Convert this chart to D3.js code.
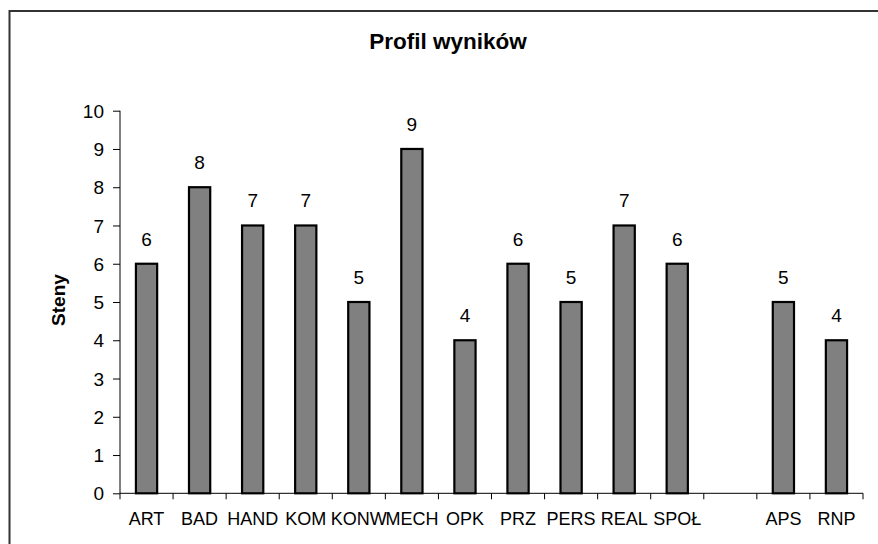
<!DOCTYPE html>
<html>
<head>
<meta charset="utf-8">
<script src="https://cdn.jsdelivr.net/npm/d3@7"></script>
<style>
  body { margin: 0; background: #fff; }
  text { font-family: "Liberation Sans", Arial, sans-serif; fill: #000; }
</style>
</head>
<body>
<div id="svg-area"></div>
<script>
var svgWidth = 878;
var svgHeight = 544;

// chart data
var categories = ["ART", "BAD", "HAND", "KOM", "KONW", "MECH", "OPK", "PRZ", "PERS", "REAL", "SPOŁ", "", "APS", "RNP"];
var values = [6, 8, 7, 7, 5, 9, 4, 6, 5, 7, 6, null, 5, 4];
var yTicks = [0, 1, 2, 3, 4, 5, 6, 7, 8, 9, 10];

var margin = { top: 110.7, right: 15, bottom: 50.7, left: 120 };
var chartWidth = 863 - margin.left;
var chartHeight = 493.3 - margin.top;

var svg = d3.select("#svg-area").append("svg")
  .attr("width", svgWidth)
  .attr("height", svgHeight);

// outer chart frame (runs off the right and bottom edges)
svg.append("rect")
  .attr("x", 9.5).attr("y", 11)
  .attr("width", 900).attr("height", 600)
  .attr("fill", "none")
  .attr("stroke", "#333")
  .attr("stroke-width", 2);

svg.append("text")
  .attr("x", 448).attr("y", 48.5)
  .attr("text-anchor", "middle")
  .style("font-size", "22.5px")
  .style("font-weight", "bold")
  .text("Profil wyników");

var chartGroup = svg.append("g")
  .attr("transform", `translate(${margin.left}, ${margin.top})`);

var xScale = d3.scaleBand()
  .domain(d3.range(categories.length))
  .range([0, chartWidth])
  .paddingInner(0.6)
  .paddingOuter(0.3);

var yScale = d3.scaleLinear()
  .domain([0, 10])
  .range([chartHeight, 0]);

// y axis
var yAxis = d3.axisLeft(yScale).tickValues(yTicks).tickSize(7).tickPadding(9);
var yG = chartGroup.append("g").call(yAxis);
yG.selectAll("path, line").attr("stroke", "#000").attr("stroke-width", 1);
yG.selectAll("text").style("font-size", "19px").attr("dy", "0.35em");
yG.select(".domain").attr("d", `M0,${chartHeight}V0`);

// x axis with ticks at the category boundaries
var step = chartWidth / categories.length;
var xG = chartGroup.append("g").attr("transform", `translate(0, ${chartHeight})`);
xG.append("line")
  .attr("x1", 0).attr("x2", chartWidth)
  .attr("stroke", "#000");
xG.selectAll(".tickmark")
  .data(d3.range(categories.length + 1))
  .enter().append("line")
  .attr("class", "tickmark")
  .attr("x1", function(d) { return d * step; })
  .attr("x2", function(d) { return d * step; })
  .attr("y1", 0).attr("y2", 6)
  .attr("stroke", "#000");
xG.selectAll(".cat")
  .data(categories)
  .enter().append("text")
  .attr("class", "cat")
  .attr("x", function(d, i) { return xScale(i) + xScale.bandwidth() / 2; })
  .attr("y", 31.5)
  .attr("text-anchor", "middle")
  .style("font-size", "18px")
  .text(function(d) { return d; });

chartGroup.append("text")
  .attr("transform", `translate(${58 - margin.left}, ${300 - margin.top}) rotate(-90)`)
  .attr("text-anchor", "middle")
  .attr("dy", "0.35em")
  .style("font-size", "19px")
  .style("font-weight", "bold")
  .text("Steny");

var barData = values.map(function(v, i) { return { i: i, v: v }; })
  .filter(function(d) { return d.v !== null; });

chartGroup.selectAll(".bar")
  .data(barData)
  .enter().append("rect")
  .attr("class", "bar")
  .attr("x", function(d) { return xScale(d.i); })
  .attr("y", function(d) { return yScale(d.v); })
  .attr("width", xScale.bandwidth())
  .attr("height", function(d) { return chartHeight - yScale(d.v); })
  .attr("fill", "#808080")
  .attr("stroke", "#000")
  .attr("stroke-width", 2.2);

chartGroup.selectAll(".val")
  .data(barData)
  .enter().append("text")
  .attr("class", "val")
  .attr("x", function(d) { return xScale(d.i) + xScale.bandwidth() / 2; })
  .attr("y", function(d) { return yScale(d.v) - 18; })
  .attr("text-anchor", "middle")
  .style("font-size", "19px")
  .text(function(d) { return d.v; });
</script>
</body>
</html>
